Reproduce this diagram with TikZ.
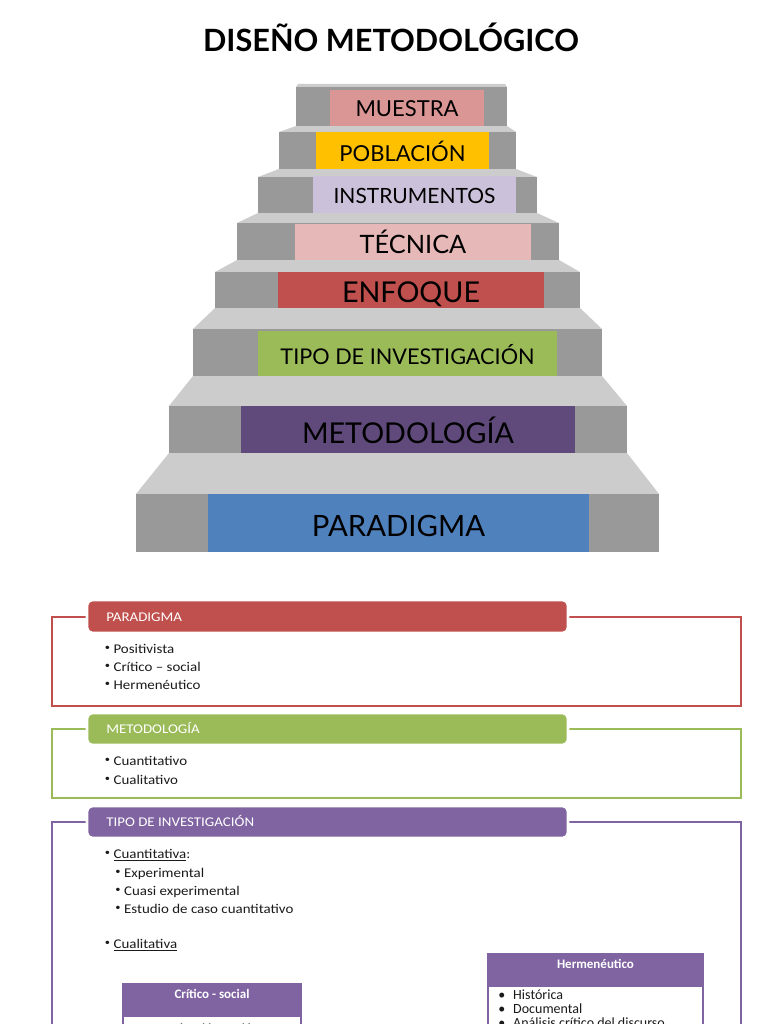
\documentclass[tikz,border=0pt]{standalone}
\usepackage{fontspec}
\setmainfont{Carlito}
\newfontfamily\stairfont{Lato}
\newfontfamily\listfont[FakeStretch=1.12]{Carlito}
\usepackage{xcolor}

\definecolor{stepfront}{HTML}{999999}
\definecolor{steptop}{HTML}{CCCCCC}
\definecolor{cMuestra}{HTML}{D99694}
\definecolor{cPoblacion}{HTML}{FFC000}
\definecolor{cInstr}{HTML}{CCC1DA}
\definecolor{cTecnica}{HTML}{E6B9B8}
\definecolor{cEnfoque}{HTML}{C0504D}
\definecolor{cTipo}{HTML}{9BBB59}
\definecolor{cMetod}{HTML}{604A7B}
\definecolor{cParad}{HTML}{4F81BD}
\definecolor{cRed}{HTML}{C0504D}
\definecolor{cGreen}{HTML}{9BBB59}
\definecolor{cPurple}{HTML}{8064A2}
\definecolor{textdark}{HTML}{1A1A1A}

\newcommand{\smbul}{\makebox[6.6pt][l]{\fontsize{7pt}{7pt}\selectfont\raisebox{0.5ex}{•}}}

\tikzset{
  title/.style={inner sep=0pt, text=black, font=\stairfont\bfseries\fontsize{23pt}{23pt}\selectfont},
  steplabel/.style={anchor=base, inner sep=0pt, text=black},
  outerbox/.style={draw=#1, line width=1.1pt},
  headbar/.style={fill=#1, draw=white, line width=2pt, rounded corners=4pt},
  headtext/.style={anchor=base west, inner sep=0pt, text=white, font=\listfont\fontsize{10pt}{11pt}\selectfont},
  item/.style={anchor=base west, inner sep=0pt, text=textdark, font=\listfont\fontsize{10pt}{11pt}\selectfont},
  subhead/.style={fill=#1, draw=#1, line width=0.8pt},
  subbody/.style={fill=white, draw=#1, line width=0.8pt},
  subtitle/.style={anchor=base, inner sep=0pt, text=white, font=\bfseries\fontsize{9.75pt}{11pt}\selectfont},
  subitem/.style={anchor=base west, inner sep=0pt, text=textdark, font=\fontsize{10.5pt}{12pt}\selectfont},
}

\begin{document}
\begin{tikzpicture}[x=0.75pt,y=-0.75pt]
\useasboundingbox (0,0) rectangle (768,1024);
\clip (0,0) rectangle (768,1024);

% title
\node[title] (title) at (391,37) {DISEÑO METODOLÓGICO};

% stairs: front left/right, front top/bottom, top face, step above, label box, baseline, colour, size, text
\foreach \xl/\xr/\yf/\yb/\yt/\pl/\pr/\bl/\br/\bt/\yl/\col/\fs/\txt [count=\i] in {
  296/507/87/126/84/298/505/330/484/90/117/cMuestra/16.5/MUESTRA,
  279/516/132/169/126/296/507/316/489/132/161/cPoblacion/16.5/POBLACIÓN,
  258/537/177/213/169/279/516/313/516/176/203/cInstr/15.75/INSTRUMENTOS,
  237/559/223/260/213/258/537/295/531/224/253/cTecnica/19/TÉCNICA,
  215/580/272/308/260/237/559/278/544/272/302/cEnfoque/21.5/ENFOQUE,
  193/602/329/376/308/215/580/258/557/331/364/cTipo/16.25/TIPO DE INVESTIGACIÓN,
  169/627/406/453/376/193/602/241/575/406/443/cMetod/21.5/METODOLOGÍA,
  136/659/494/552/453/169/627/208/589/494/536/cParad/22/PARADIGMA}
{
  \fill[steptop] (\xl,\yf) -- (\xr,\yf) -- (\pr,\yt) -- (\pl,\yt) -- cycle;
  \fill[stepfront] (\xl,\yf) rectangle (\xr,\yb);
  \fill[\col] (\bl,\bt) rectangle (\br,\yb);
  \node[steplabel, font={\stairfont\fontsize{\fs pt}{\fs pt}\selectfont}] (step\i) at ({(\bl+\br)/2},\yl) {\txt};
}

% paradigma
\draw[outerbox=cRed] (52,617) rectangle (741,706);
\draw[headbar=cRed] (87,600) rectangle (568,633);
\node[headtext] (hParad) at (106,621) {PARADIGMA};
\node[item] (iPos) at (104.5,653) {\smbul Positivista};
\node[item] (iCrit) at (104.5,671) {\smbul Crítico – social};
\node[item] (iHerm) at (104.5,689) {\smbul Hermenéutico};

% metodologia
\draw[outerbox=cGreen] (52,729) rectangle (741,798);
\draw[headbar=cGreen] (87,713) rectangle (568,745);
\node[headtext] (hMetod) at (106,733) {METODOLOGÍA};
\node[item] (iCuant) at (104.5,765) {\smbul Cuantitativo};
\node[item] (iCual) at (104.5,784) {\smbul Cualitativo};

% tipo de investigacion
\draw[outerbox=cPurple] (52,1040) -- (52,822) -- (741,822) -- (741,1040);
\draw[headbar=cPurple] (87,806) rectangle (568,838);
\node[headtext] (hTipo) at (106,826) {TIPO DE INVESTIGACIÓN};
\node[item] (tCuant) at (104.5,858) {\smbul\underline{Cuantitativa}:};
\node[item] (tExp) at (115,877) {\smbul Experimental};
\node[item] (tCuasi) at (115,895) {\smbul Cuasi experimental};
\node[item] (tCaso) at (115,913) {\smbul Estudio de caso cuantitativo};
\node[item] (tCual) at (104.5,948) {\smbul\underline{Cualitativa}};

% hermeneutico
\draw[subbody=cPurple] (488,986) rectangle (703,1040);
\draw[subhead=cPurple] (488,954) rectangle (703,986);
\node[subtitle] (sHerm) at (595.5,968.5) {Hermenéutico};
\node[subitem] (sHist) at (498,999) {•\hspace{6pt}Histórica};
\node[subitem] (sDoc) at (498,1013) {•\hspace{6pt}Documental};
\node[subitem] (sAnal) at (498,1027) {•\hspace{6pt}Análisis crítico del discurso};

% critico - social
\draw[subbody=cPurple] (123,1016) rectangle (301,1040);
\draw[subhead=cPurple] (123,984) rectangle (301,1016);
\node[subtitle] (sCrit) at (212,998.5) {Crítico - social};
\node[subitem] (sAcc) at (131,1033) {•\hspace{6pt}Investigación acción};
\end{tikzpicture}
\end{document}
